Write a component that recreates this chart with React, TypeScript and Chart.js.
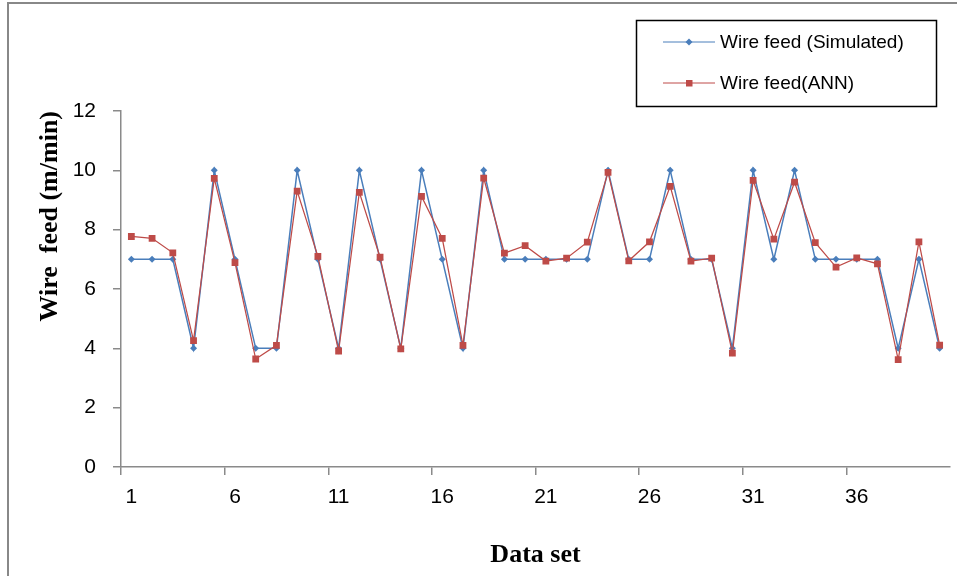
import React, { useEffect, useRef } from 'react';
import { Chart, registerables } from 'chart.js';

Chart.register(...registerables);

const categories = [
  '1', '2', '3', '4', '5', '6', '7', '8', '9', '10',
  '11', '12', '13', '14', '15', '16', '17', '18', '19', '20',
  '21', '22', '23', '24', '25', '26', '27', '28', '29', '30',
  '31', '32', '33', '34', '35', '36', '37', '38', '39', '40',
];

const simulated = [
  7, 7, 7, 4, 10, 7, 4, 4, 10, 7,
  4, 10, 7, 4, 10, 7, 4, 10, 7, 7,
  7, 7, 7, 10, 7, 7, 10, 7, 7, 4,
  10, 7, 10, 7, 7, 7, 7, 4, 7, 4,
];

const ann = [
  7.77, 7.71, 7.22, 4.26, 9.73, 6.89, 3.64, 4.10, 9.30, 7.10,
  3.91, 9.26, 7.07, 3.98, 9.12, 7.71, 4.10, 9.74, 7.21, 7.46,
  6.94, 7.04, 7.58, 9.93, 6.95, 7.59, 9.46, 6.94, 7.04, 3.84,
  9.66, 7.68, 9.60, 7.56, 6.74, 7.05, 6.85, 3.62, 7.59, 4.11,
];

const yTicks = [0, 2, 4, 6, 8, 10, 12];

const BLUE = '#4A7EBB';
const RED = '#BE4B48';
const AXIS = '#8a8a8a';
const SANS = "'Liberation Sans', Arial, sans-serif";
const SERIF = "'Liberation Serif', 'Times New Roman', serif";

const boxLegend = {
  id: 'boxLegend',
  afterDraw(chart: any) {
    const ctx = chart.ctx;
    const bx = 636.5, by = 20.5, bw = 300, bh = 86;
    ctx.save();
    ctx.strokeStyle = '#000';
    ctx.lineWidth = 1.5;
    ctx.strokeRect(bx, by, bw, bh);
    const rows = [42, 83];
    chart.data.datasets.forEach((ds: any, i: number) => {
      const y = rows[i];
      ctx.strokeStyle = ds.borderColor;
      ctx.lineWidth = 1;
      ctx.beginPath();
      ctx.moveTo(663, y);
      ctx.lineTo(715, y);
      ctx.stroke();
      ctx.fillStyle = ds.backgroundColor;
      ctx.beginPath();
      if (ds.pointStyle === 'rectRot') {
        ctx.moveTo(689, y - 3.5);
        ctx.lineTo(692.5, y);
        ctx.lineTo(689, y + 3.5);
        ctx.lineTo(685.5, y);
        ctx.closePath();
      } else {
        ctx.rect(686, y - 3, 6.5, 6.5);
      }
      ctx.fill();
      ctx.fillStyle = '#000';
      ctx.font = `19px ${SANS}`;
      ctx.textBaseline = 'middle';
      ctx.textAlign = 'left';
      ctx.fillText(ds.label, 720, y + 1);
    });
    ctx.restore();
  },
};

export default function App() {
  const ref = useRef<HTMLCanvasElement>(null);

  useEffect(() => {
    document.body.style.margin = '0';
    const canvas = ref.current;
    if (!canvas) return;
    const chart = new Chart(canvas, {
      type: 'line',
      data: {
        labels: categories,
        datasets: [
          {
            label: 'Wire feed (Simulated)',
            data: simulated,
            borderColor: BLUE,
            backgroundColor: BLUE,
            borderWidth: 1.5,
            pointStyle: 'rectRot',
            pointRadius: 3.5,
            pointHoverRadius: 3.5,
            pointBorderWidth: 0,
            tension: 0,
            order: 2,
          },
          {
            label: 'Wire feed(ANN)',
            data: ann,
            borderColor: RED,
            backgroundColor: RED,
            borderWidth: 1.25,
            pointStyle: 'rect',
            pointRadius: 4.8,
            pointHoverRadius: 4.8,
            pointBorderWidth: 0,
            tension: 0,
            order: 1,
          },
        ],
      },
      options: {
        animation: false,
        responsive: false,
        layout: { padding: { left: 20, top: 111, right: 7, bottom: 0 } },
        plugins: {
          legend: { display: false },
          tooltip: { enabled: false },
        },
        scales: {
          x: {
            type: 'category',
            offset: true,
            afterFit: (s: any) => { s.height = 109; },
            grid: {
              offset: true,
              drawOnChartArea: false,
              drawTicks: true,
              tickLength: 8,
              color: (c: any) => (c.index % 5 === 0 ? AXIS : 'rgba(0,0,0,0)'),
              lineWidth: 1.5,
            },
            border: { display: true, color: AXIS, width: 1.5 },
            ticks: {
              autoSkip: false,
              maxRotation: 0,
              minRotation: 0,
              padding: 10,
              color: '#000',
              font: { family: SANS, size: 21 },
              callback: (_v: any, i: number) => (i % 5 === 0 ? categories[i] : ''),
            },
            title: {
              display: true,
              text: 'Data set',
              color: '#000',
              font: { family: SERIF, size: 26, weight: 'bold' },
              padding: { top: 0, bottom: 5 },
            },
          },
          y: {
            min: 0,
            max: 12,
            afterFit: (s: any) => { s.width = 101; },
            afterBuildTicks: (s: any) => { s.ticks = yTicks.map((v) => ({ value: v })); },
            grid: {
              drawOnChartArea: false,
              drawTicks: true,
              tickLength: 8,
              color: AXIS,
              lineWidth: 1.5,
            },
            border: { display: true, color: AXIS, width: 1.5 },
            ticks: {
              padding: 17,
              color: '#000',
              font: { family: SANS, size: 21 },
            },
            title: {
              display: true,
              text: 'Wire  feed (m/min)',
              align: 'end',
              color: '#000',
              font: { family: SERIF, size: 26, weight: 'bold' },
              padding: { top: 15, bottom: 0 },
            },
          },
        },
      },
      plugins: [boxLegend],
    } as any);
    return () => chart.destroy();
  }, []);

  return (
    <div style={{ position: 'relative', width: 957, height: 576, background: '#fff' }}>
      <div
        style={{
          position: 'absolute',
          left: 7,
          top: 2,
          right: 0,
          bottom: 0,
          borderTop: '2px solid #888',
          borderLeft: '2px solid #888',
          pointerEvents: 'none',
        }}
      />
      <canvas ref={ref} width={957} height={576} style={{ display: 'block', position: 'relative' }} />
    </div>
  );
}
